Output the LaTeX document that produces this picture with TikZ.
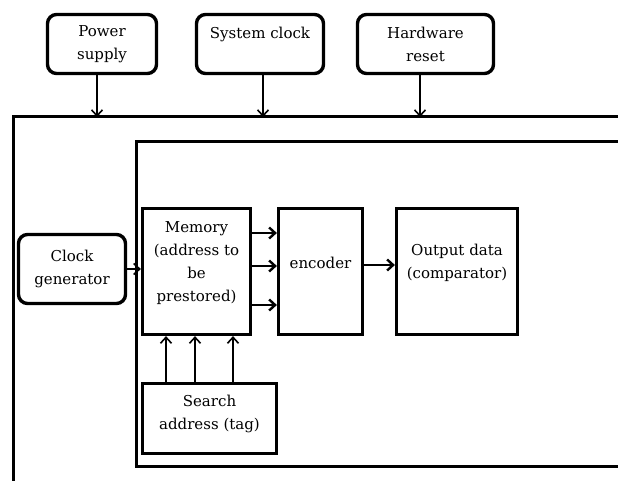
\documentclass[tikz,border=0pt]{standalone}
\usepackage{fontspec}
\setmainfont{DejaVu Serif}
\usetikzlibrary{arrows.meta}
\begin{document}
\begin{tikzpicture}[x=1pt,y=-1pt,
  txt/.style={align=center, inner sep=0pt, font=\fontsize{15}{23}\selectfont},
  rbox/.style={txt, draw, line width=3.4pt, rounded corners=9pt},
  sbox/.style={txt, draw, line width=3.2pt},
  frame/.style={line width=3pt},
  arr/.style={-{Straight Barb[length=6pt,width=11pt,line width=1.6pt]}, line width=1.6pt},
  arrb/.style={-{Straight Barb[length=6pt,width=11pt,line width=2.4pt]}, line width=2.6pt}]
\useasboundingbox (0,0) rectangle (618,481);
% top boxes
\node[rbox, minimum width=109pt, minimum height=59pt] (ps) at (102,44) {Power\\supply};
\node[rbox, minimum width=127pt, minimum height=59pt] (sc) at (260,44) {System clock\\\mbox{}};
\node[rbox, minimum width=136pt, minimum height=59pt] (hr) at (425.5,44) {Hardware\\reset};
% frames
\draw[frame] (618,117) -- (13,117) -- (13,481);
\draw[frame] (618,142) -- (136,142) -- (136,466) -- (618,466);
\coordinate (t1) at (97,117);
\coordinate (t2) at (263,117);
\coordinate (t3) at (420,117);
\draw[arr] (ps.south -| t1) -- (t1);
\draw[arr] (sc.south -| t2) -- (t2);
\draw[arr] (hr.south -| t3) -- (t3);
% inner blocks
\node[rbox, minimum width=107pt, minimum height=69pt] (cg) at (72,269) {Clock\\generator};
\node[sbox, minimum width=108pt, minimum height=126pt] (mem) at (196.5,271.5) {Memory\\(address to\\be\\prestored)\\[-3pt]\mbox{}};
\node[sbox, minimum width=84pt, minimum height=126pt] (enc) at (320.5,271.5) {encoder\\[-5pt]\mbox{}};
\node[sbox, minimum width=121pt, minimum height=126pt] (out) at (457,271.5) {Output data\\(comparator)\\[-3pt]\mbox{}};
\node[sbox, minimum width=134pt, minimum height=70pt] (sa) at (209.5,418.5) {Search\\address (tag)\\[-11pt]\mbox{}};
% connectors
\coordinate (r1) at (0,233);
\coordinate (r2) at (0,266);
\coordinate (r3) at (0,305);
\coordinate (r4) at (0,265);
\draw[arr] (cg.east) -- (mem.west |- cg.east);
\draw[arrb] (mem.east |- r1) -- (enc.west |- r1);
\draw[arrb] (mem.east |- r2) -- (enc.west |- r2);
\draw[arrb] (mem.east |- r3) -- (enc.west |- r3);
\draw[arrb] (enc.east |- r4) -- (out.west |- r4);
\coordinate (c1) at (166,0);
\coordinate (c2) at (195,0);
\coordinate (c3) at (233,0);
\draw[arr] (sa.north -| c1) -- (mem.south -| c1);
\draw[arr] (sa.north -| c2) -- (mem.south -| c2);
\draw[arr] (sa.north -| c3) -- (mem.south -| c3);
\end{tikzpicture}
\end{document}
